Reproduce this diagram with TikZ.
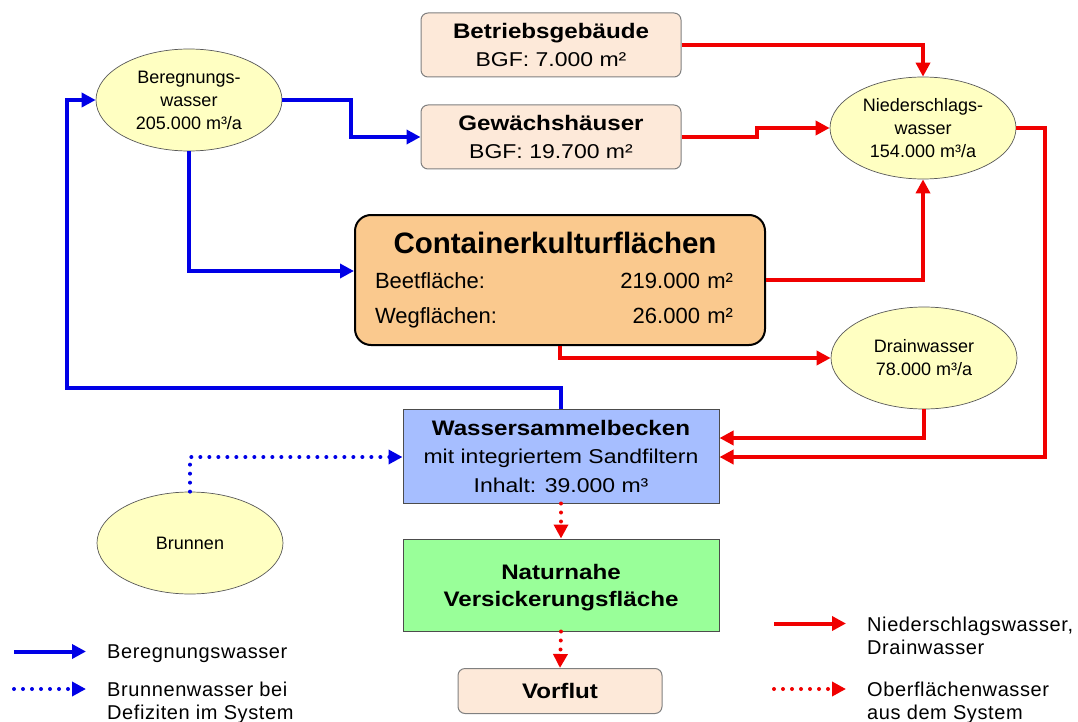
\documentclass[tikz,border=0pt]{standalone}
\usepackage{fontspec}
\setmainfont{Liberation Sans}
\newfontfamily\widefont[FakeStretch=1.15]{Liberation Sans}
\newfontfamily\legfont[LetterSpace=3]{Liberation Sans}
\usetikzlibrary{shapes.geometric, arrows.meta}
\definecolor{flowblue}{RGB}{0,0,230}
\definecolor{flowred}{RGB}{240,0,0}
\definecolor{ellfill}{RGB}{255,255,194}
\definecolor{peach}{RGB}{253,233,217}
\definecolor{orangefill}{RGB}{250,201,142}
\definecolor{basin}{RGB}{166,190,255}
\definecolor{meadow}{RGB}{153,255,153}

\begin{document}
\begin{tikzpicture}[x=1pt,y=-1pt,
  water/.style={draw=black!65,line width=0.7pt,fill=ellfill,shape=ellipse,minimum width=186pt,minimum height=102pt,inner sep=0pt,align=center,font=\fontsize{18}{23}\selectfont},
  building/.style={draw=black!50,line width=1pt,fill=peach,rounded corners=7pt,minimum width=260pt,minimum height=64pt,inner sep=0pt,align=center,font=\widefont\fontsize{20}{28}\selectfont},
  pond/.style={draw=black!70,line width=1pt,minimum width=316pt,inner sep=0pt,align=center,font=\widefont\fontsize{20}{28.5}\selectfont},
  legend/.style={anchor=north west,inner sep=0pt,align=left,font=\legfont\fontsize{20}{23}\selectfont},
  blueflow/.style={draw=flowblue,line width=4pt,-{Triangle[length=14pt,width=14pt]}},
  redflow/.style={draw=flowred,line width=4pt,-{Triangle[length=14pt,width=14pt]}},
  dotline/.style={line cap=round,dash pattern=on 0pt off 9pt}]
  \useasboundingbox (0,0) rectangle (1078,722);
  \path (189,100) node[water] (bereg) {Beregnungs-\\wasser\\205.000 m³/a}
  (923,128) node[water] (nieder) {Niederschlags-\\wasser\\154.000 m³/a}
  (924,358) node[water] (drain) {Drainwasser\\78.000 m³/a}
  (190,543) node[water] (brunnen) {Brunnen};
  \path (551,45) node[building] (betrieb) {{\bfseries\fontsize{21}{28}\selectfont Betriebsgebäude}\\BGF: 7.000 m²}
  (551,137) node[building] (gewaechs) {{\bfseries\fontsize{21}{28}\selectfont Gewächshäuser}\\BGF: 19.700 m²}
  (560,691) node[building,minimum width=204pt,minimum height=45pt] (vorflut) {\bfseries\fontsize{21}{28}\selectfont Vorflut};
  \node[draw=black,line width=2pt,fill=orangefill,rounded corners=16pt,minimum width=410pt,minimum height=130pt,inner sep=0pt,text width=370pt,align=center,font=\fontsize{22}{35}\selectfont] (ckf) at (560,280)
    {{\bfseries\fontsize{29.5}{35}\selectfont Containerkulturflächen\kern10pt}\\
     Beetfläche:\hspace{0pt plus 1filll}219.000 m²\kern12pt\\
     Wegflächen:\hspace{0pt plus 1filll}26.000 m²\kern12pt};
  \path (561,456) node[pond,fill=basin,minimum height=94pt] (becken) {{\bfseries\fontsize{21}{28}\selectfont Wassersammelbecken}\\mit integriertem Sandfiltern\\Inhalt: 39.000 m³}
  (561,585) node[pond,fill=meadow,minimum height=92pt,text depth=0pt,font=\widefont\bfseries\fontsize{21}{27}\selectfont] (natur) {Naturnahe\\Versickerungsfläche};
  \coordinate (loop) at (67,388);
  \draw[blueflow] (bereg.east) -- ++(69,0) |- (gewaechs.west);
  \draw[blueflow] (bereg.south) |- ([yshift=9pt]ckf.west);
  \draw[blueflow] (becken.north) |- (loop) |- (bereg.west);
  \draw[blueflow,dotline] (brunnen.north) |- ([yshift=-1pt]becken.west);
  \draw[redflow] (betrieb.east) -| (nieder.north);
  \draw[redflow] (gewaechs.east) -- ++(75,0) |- (nieder.west);
  \draw[redflow] (ckf.east) -| (nieder.south);
  \draw[redflow] (ckf.south) |- (drain.west);
  \draw[redflow] (drain.south) |- ([yshift=18pt]becken.east);
  \draw[redflow] (nieder.east) -- ++(29,0) |- ([yshift=-1pt]becken.east);
  \draw[redflow,dotline] (becken.south) -- (natur.north);
  \draw[redflow,dotline] (natur.south) -- (vorflut.north);
  \path (107,644.5) node[legend] (legbereg) {Beregnungswasser}
  (107,682) node[legend] (legbrunnen) {Brunnenwasser bei\\Defiziten im System}
  (867,616.5) node[legend] (legnieder) {Niederschlagswasser,\\Drainwasser}
  (867,682) node[legend] (legober) {Oberflächenwasser\\aus dem System};
  \draw[blueflow] ([xshift=-93pt,yshift=-7pt]legbereg.north west) -- ([xshift=-21pt,yshift=-7pt]legbereg.north west);
  \draw[blueflow,dotline] ([xshift=-93pt,yshift=-7pt]legbrunnen.north west) -- ([xshift=-21pt,yshift=-7pt]legbrunnen.north west);
  \draw[redflow] ([xshift=-93pt,yshift=-7pt]legnieder.north west) -- ([xshift=-21pt,yshift=-7pt]legnieder.north west);
  \draw[redflow,dotline] ([xshift=-93pt,yshift=-7pt]legober.north west) -- ([xshift=-21pt,yshift=-7pt]legober.north west);
\end{tikzpicture}
\end{document}
